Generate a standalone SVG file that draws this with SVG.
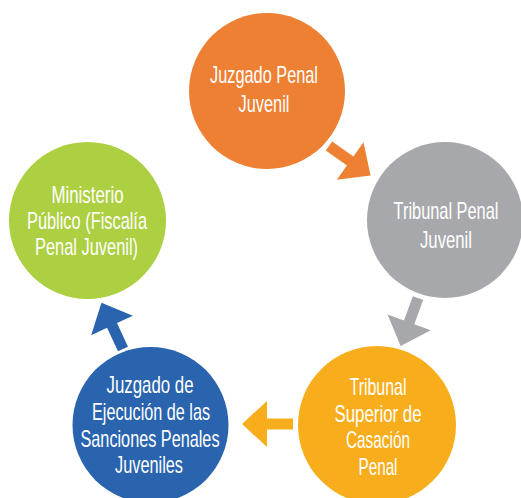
<svg xmlns="http://www.w3.org/2000/svg" xmlns:xlink="http://www.w3.org/1999/xlink" width="521" height="498" viewBox="0 0 521 498">
<style>
text{font-family:"Liberation Sans Narrow","Liberation Sans",Arial,sans-serif;font-size:24px;fill:#ffffff;text-anchor:middle}
</style>
<defs>
<path id="arr" d="M0,-5.5 L26,-5.5 L26,-23 L51,0 L26,23 L26,5.5 L0,5.5 Z"/>
</defs>
<rect width="521" height="498" fill="#ffffff"/>
<g id="connectors">
<use xlink:href="#arr" href="#arr" fill="#EE8033" transform="translate(329,146) rotate(35.5)"/>
<use xlink:href="#arr" href="#arr" fill="#A7A8AB" transform="translate(418,298) rotate(109.9)"/>
<use xlink:href="#arr" href="#arr" fill="#F8AE1C" transform="translate(293,424) rotate(180)"/>
<use xlink:href="#arr" href="#arr" fill="#2A64AE" transform="translate(123,349) rotate(-115)"/>
</g>
<g id="juzgado-penal-juvenil">
<circle cx="267" cy="91" r="78" fill="#EE8033"/>
<text x="264" y="83" textLength="108" lengthAdjust="spacingAndGlyphs">Juzgado Penal</text>
<text x="264" y="112" textLength="51" lengthAdjust="spacingAndGlyphs">Juvenil</text>
</g>
<g id="tribunal-penal-juvenil">
<circle cx="445" cy="220" r="78" fill="#A7A8AB"/>
<text x="0" y="219" transform="translate(446,0) scale(0.8,1)" textLength="131" lengthAdjust="spacingAndGlyphs">Tribunal Penal</text>
<text x="446" y="248" textLength="52" lengthAdjust="spacingAndGlyphs">Juvenil</text>
</g>
<g id="tribunal-superior">
<circle cx="377" cy="425" r="79" fill="#F8AE1C"/>
<text x="378" y="395" textLength="57" lengthAdjust="spacingAndGlyphs">Tribunal</text>
<text x="378" y="422" textLength="87" lengthAdjust="spacingAndGlyphs">Superior de</text>
<text x="378" y="448" textLength="64" lengthAdjust="spacingAndGlyphs">Casación</text>
<text x="378" y="475" textLength="39" lengthAdjust="spacingAndGlyphs">Penal</text>
</g>
<g id="juzgado-ejecucion">
<circle cx="150.5" cy="425" r="78" fill="#2A64AE"/>
<text x="150" y="393" textLength="87" lengthAdjust="spacingAndGlyphs">Juzgado de</text>
<text x="151" y="420" textLength="118" lengthAdjust="spacingAndGlyphs">Ejecución de las</text>
<text x="150" y="447" textLength="139" lengthAdjust="spacingAndGlyphs">Sanciones Penales</text>
<text x="149" y="473" textLength="68" lengthAdjust="spacingAndGlyphs">Juveniles</text>
</g>
<g id="ministerio-publico">
<circle cx="87.5" cy="220.5" r="78.5" fill="#ADCF42"/>
<text x="87.5" y="203" textLength="72" lengthAdjust="spacingAndGlyphs">Ministerio</text>
<text x="87" y="229" textLength="120" lengthAdjust="spacingAndGlyphs">Público (Fiscalía</text>
<text x="86.5" y="255" textLength="103" lengthAdjust="spacingAndGlyphs">Penal Juvenil)</text>
</g>
</svg>
